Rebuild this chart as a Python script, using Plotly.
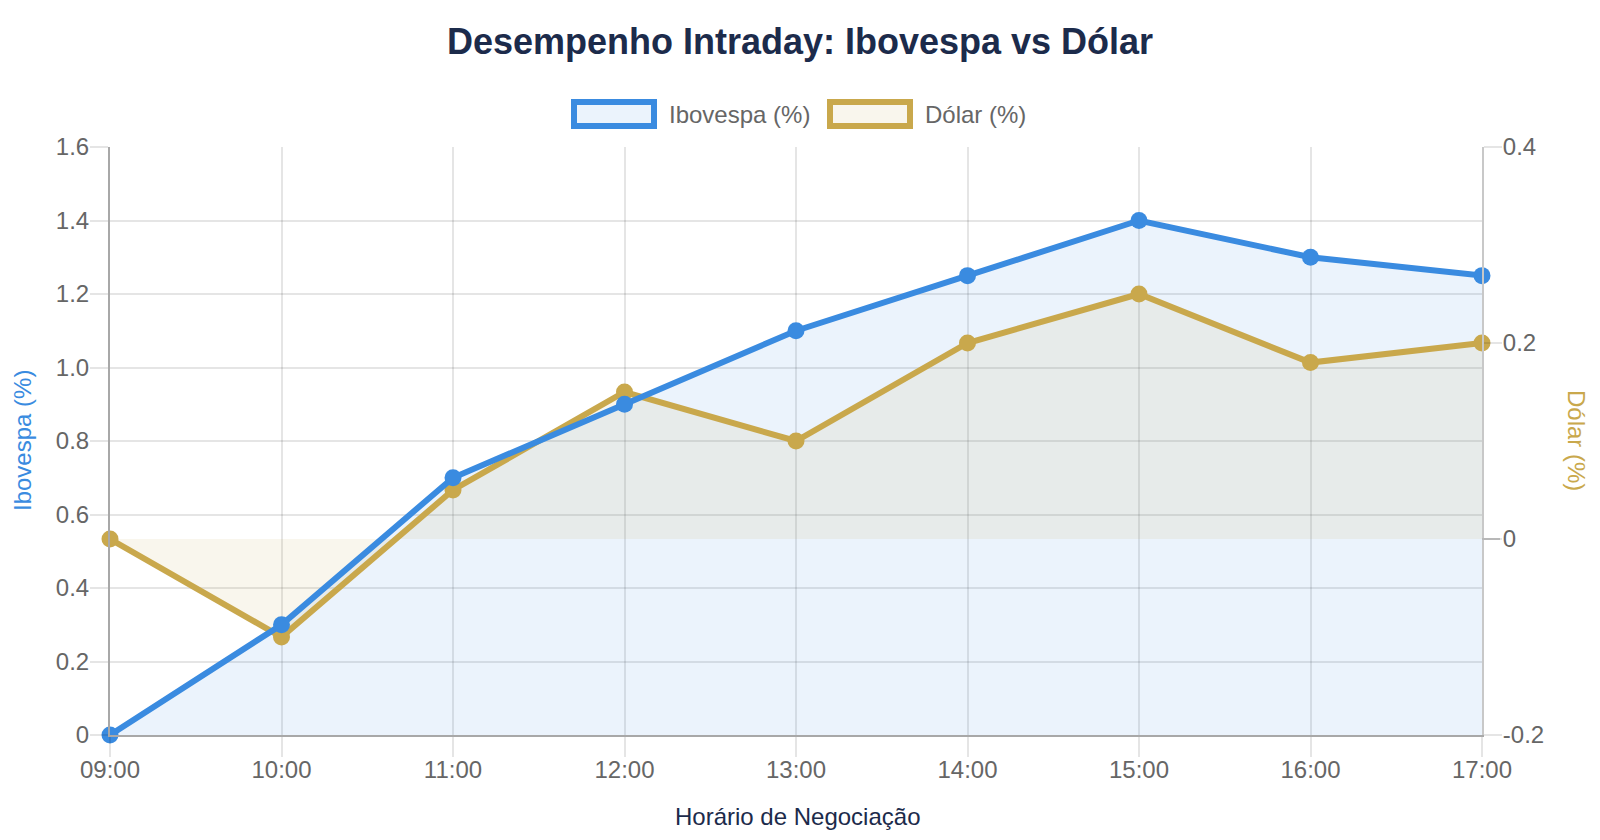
import plotly.graph_objects as go

horarios = ["09:00", "10:00", "11:00", "12:00", "13:00", "14:00", "15:00", "16:00", "17:00"]
ibovespa = [0.0, 0.3, 0.7, 0.9, 1.1, 1.25, 1.4, 1.3, 1.25]
dolar = [0.0, -0.1, 0.05, 0.15, 0.1, 0.2, 0.25, 0.18, 0.2]

ibov_ticks = [0, 0.2, 0.4, 0.6, 0.8, 1.0, 1.2, 1.4, 1.6]
ibov_ticktext = ["0", "0.2", "0.4", "0.6", "0.8", "1.0", "1.2", "1.4", "1.6"]
dolar_ticks = [-0.2, 0, 0.2, 0.4]
dolar_ticktext = ["-0.2", "0", "0.2", "0.4"]

BLUE = "#3a8be0"
GOLD = "#c9a84c"
BLUE_FILL = "rgba(58,139,224,0.1)"
GOLD_FILL = "rgba(201,168,76,0.1)"
NAVY = "#1c2b4b"
TICK = "#666666"
GRID = "rgba(0,0,0,0.1)"
FONT = "Liberation Sans, Arial, sans-serif"

# page has an 8px body margin; figure coordinates = page coordinates - 8
OFF = 8
W, H = 1600 - OFF, 840 - OFF
L, R, T, B = 110 - OFF, 1482 - OFF, 147 - OFF, 735 - OFF


def px(x):
    return (x - OFF - L) / (R - L)


def py(y):
    return (B - (y - OFF)) / (B - T)


fig = go.Figure()

# Ibovespa fill (base axis, left scale)
fig.add_trace(go.Scatter(
    x=horarios, y=ibovespa, yaxis="y", mode="lines", fill="tozeroy",
    fillcolor=BLUE_FILL, line=dict(width=0, color=BLUE), hoverinfo="skip",
    showlegend=False,
))
# Dólar fill + line (right scale)
fig.add_trace(go.Scatter(
    x=horarios, y=dolar, name="Dólar (%)", yaxis="y2",
    mode="lines+markers", fill="tozeroy", fillcolor=GOLD_FILL,
    line=dict(color=GOLD, width=6),
    marker=dict(color=GOLD, size=17), cliponaxis=False,
))
# Ibovespa line on top (same scale as left axis)
fig.add_trace(go.Scatter(
    x=horarios, y=ibovespa, name="Ibovespa (%)", yaxis="y3",
    mode="lines+markers",
    line=dict(color=BLUE, width=6),
    marker=dict(color=BLUE, size=17), cliponaxis=False,
))

tickfont = dict(family=FONT, size=24, color=TICK)

fig.update_layout(
    width=W, height=H,
    margin=dict(l=L, r=W - R, t=T, b=H - B),
    paper_bgcolor="white", plot_bgcolor="white",
    showlegend=False,
    font=dict(family=FONT),
    title=dict(text="<b>Desempenho Intraday: Ibovespa vs Dólar</b>",
               x=(800 - OFF) / W, xref="container", xanchor="center",
               y=1 - (41 - OFF) / H, yref="container", yanchor="middle",
               font=dict(family=FONT, size=36, color=NAVY)),
    xaxis=dict(
        type="category", range=[0, len(horarios) - 1],
        showgrid=True, gridcolor=GRID, gridwidth=2,
        showline=True, linecolor="#a8a8a8", linewidth=2,
        ticks="outside", ticklen=20, tickwidth=2, tickcolor=GRID,
        ticklabelstandoff=-8,
        tickfont=tickfont, zeroline=False,
    ),
    yaxis=dict(
        side="left", range=[0, 1.6],
        tickvals=ibov_ticks, ticktext=ibov_ticktext,
        showgrid=True, gridcolor=GRID, gridwidth=2, zeroline=False,
        showline=True, linecolor="#a8a8a8", linewidth=2,
        ticks="outside", ticklen=18, tickwidth=2, tickcolor=GRID,
        ticklabelstandoff=-4,
        tickfont=tickfont,
    ),
    yaxis2=dict(
        side="right", overlaying="y", range=[-0.2, 0.4],
        tickvals=dolar_ticks, ticktext=dolar_ticktext,
        showgrid=False, zeroline=False,
        showline=True, linecolor="#c8c8c8", linewidth=2,
        ticks="outside", ticklen=18, tickwidth=2, tickcolor=GRID,
        ticklabelstandoff=-4,
        tickfont=tickfont,
    ),
    yaxis3=dict(
        overlaying="y", range=[0, 1.6], visible=False,
        showgrid=False, zeroline=False,
    ),
)

# darker tick mark at the Dólar zero level
fig.add_shape(type="line", xref="paper", yref="y2",
              x0=1, x1=px(1500), y0=0, y1=0,
              line=dict(color="#b8b8b8", width=2), layer="above")

# Legend drawn as shapes + text
legend_items = [
    ("Ibovespa (%)", BLUE, BLUE_FILL, 574, 654, 667),
    ("Dólar (%)", GOLD, GOLD_FILL, 830, 910, 923),
]
for label, col, fillc, x0, x1, tx in legend_items:
    fig.add_shape(type="rect", xref="paper", yref="paper",
                  x0=px(x0), x1=px(x1), y0=py(126), y1=py(102),
                  line=dict(color=col, width=6), fillcolor=fillc, layer="above")
    fig.add_annotation(text=label, xref="paper", yref="paper",
                       x=px(tx), y=py(114), xanchor="left", yanchor="middle",
                       showarrow=False, font=dict(family=FONT, size=24, color=TICK))

# Axis titles
fig.add_annotation(text="Horário de Negociação", xref="paper", yref="paper",
                   x=px(797), y=py(816), xanchor="center", yanchor="middle",
                   showarrow=False, font=dict(family=FONT, size=24, color=NAVY))
fig.add_annotation(text="Ibovespa (%)", xref="paper", yref="paper",
                   x=px(22), y=py(441), xanchor="center", yanchor="middle",
                   textangle=-90, showarrow=False,
                   font=dict(family=FONT, size=24, color=BLUE))
fig.add_annotation(text="Dólar (%)", xref="paper", yref="paper",
                   x=px(1577), y=py(441), xanchor="center", yanchor="middle",
                   textangle=90, showarrow=False,
                   font=dict(family=FONT, size=24, color=GOLD))

fig.write_html("out.html")
